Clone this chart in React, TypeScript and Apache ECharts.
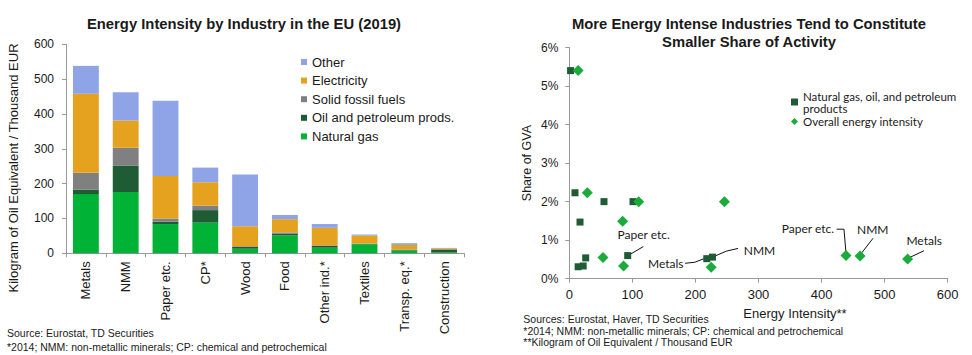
import React, { useEffect, useRef } from "react";
import * as echarts from "echarts";

// ---------- Left chart data ----------
const categories = ["Metals", "NMM", "Paper etc.", "CP*", "Wood", "Food", "Other ind.*", "Textiles", "Transp. eq.*", "Construction"];
const naturalGas = [170, 176, 84, 88, 13, 51, 16, 26, 8, 2];
const oilPetroleum = [13, 76, 7, 36, 5, 6, 5, 1, 2, 9];
const solidFossil = [48, 51, 9, 13, 2, 3, 2, 1, 1, 0.5];
const electricity = [227, 78, 122, 67, 58, 38, 50, 23, 13, 3];
const otherEnergy = [80, 81, 216, 42, 148, 12, 11, 3, 5, 1];
const leftTicks = [0, 100, 200, 300, 400, 500, 600];

// ---------- Right chart data ----------
const gasOilX = [2, 9, 55, 101, 17, 14, 22, 26, 92.6, 218, 227];
const gasOilY = [5.4, 2.23, 2.0, 2.0, 1.47, 0.31, 0.33, 0.54, 0.6, 0.52, 0.56];
const overallX = [14, 28.6, 110, 246, 84.6, 53.4, 86, 225, 438.7, 461, 536.5];
const overallY = [5.4, 2.23, 2.0, 2.0, 1.49, 0.55, 0.33, 0.3, 0.6, 0.59, 0.51];

// annotations: series (0 = gas/oil squares, 1 = overall diamonds), point index, label
const annotations = [
  { s: 0, i: 8, text: "Paper etc.", tx: 16, ty: -21, line: [[15.6, -9], [2, -1]] },
  { s: 0, i: 9, text: "Metals", tx: -41, ty: 4.6, line: [[-21.7, 4.6], [-12, 3.6], [-1.7, -0.4]] },
  { s: 0, i: 10, text: "NMM", tx: 47, ty: -7, line: [[2.3, -1], [14, -6], [25.6, -8.7]] },
  { s: 1, i: 8, text: "Paper etc.", tx: -38, ty: -27.4, line: [[-9.3, -26.4], [-2, -26.4], [0, -3]] },
  { s: 1, i: 9, text: "NMM", tx: 12.7, ty: -26.7, line: [[13, -17.7], [1.4, -2.7]] },
  { s: 1, i: 10, text: "Metals", tx: 16.5, ty: -18.3, line: [[16.3, -8.3], [2.3, -1.7]] },
];

const ARIAL = "'Liberation Sans', Arial, sans-serif";
const CALI = "Lato, 'Open Sans', sans-serif";
const AXIS_GRAY = "#9a9a9a";
const TXT = "#1a1a1a";

const COLORS = {
  other: "#8FA4E6",
  elec: "#E5A21E",
  solid: "#808080",
  oil: "#1F5C36",
  gas: "#00B336",
  sq: "#1E5C36",
  dia: "#1AAB3A",
};

function txt(x: number, y: number, text: string, font: string, extra: any = {}) {
  return {
    type: "text",
    x,
    y,
    rotation: extra.rotation || 0,
    silent: true,
    style: {
      text,
      font,
      fill: extra.fill || TXT,
      align: extra.align || "left",
      textAlign: extra.align || "left",
      verticalAlign: "middle",
      textVerticalAlign: "middle",
      lineHeight: extra.lineHeight,
    },
  };
}

export default function App() {
  const ref = useRef<HTMLDivElement>(null);

  useEffect(() => {
    if (!ref.current) return;
    const chart = echarts.init(ref.current, null, { renderer: "svg" });

    const barSeries = (name: string, data: number[], color: string) => ({
      name,
      type: "bar",
      stack: "total",
      xAxisIndex: 0,
      yAxisIndex: 0,
      data,
      barWidth: "65%",
      itemStyle: { color },
      emphasis: { disabled: true },
    });

    const option: any = {
      animation: false,
      backgroundColor: "#ffffff",
      textStyle: { fontFamily: ARIAL },
      grid: [
        { left: 66, right: 972 - 464, top: 44.3, bottom: 355 - 253.3, containLabel: false },
        { left: 569.3, right: 972 - 947.7, top: 47.5, bottom: 355 - 278.7, containLabel: false },
      ],
      legend: [
        {
          data: ["Other", "Electricity", "Solid fossil fuels", "Oil and petroleum prods.", "Natural gas"],
          orient: "vertical",
          left: 296,
          top: 50.5,
          itemWidth: 6,
          itemHeight: 6,
          itemGap: 5.6,
          icon: "rect",
          selectedMode: false,
          textStyle: { fontFamily: ARIAL, fontSize: 13, color: TXT, lineHeight: 13 },
        },
        {
          data: [
            { name: "Natural gas, oil, and petroleum\nproducts", icon: "rect" },
            { name: "Overall energy intensity", icon: "diamond" },
          ],
          orient: "vertical",
          left: 786,
          top: 85,
          itemWidth: 7,
          itemHeight: 7,
          itemGap: 1.5,
          selectedMode: false,
          textStyle: { fontFamily: CALI, fontSize: 11.5, color: TXT, lineHeight: 12 },
        },
      ],
      xAxis: [
        {
          type: "category",
          gridIndex: 0,
          data: categories,
          axisLine: { lineStyle: { color: AXIS_GRAY } },
          axisTick: { show: true, length: 4, lineStyle: { color: AXIS_GRAY } },
          axisLabel: { rotate: 90, fontSize: 13, color: TXT, margin: 8, fontFamily: ARIAL, interval: 0 },
        },
        {
          type: "value",
          gridIndex: 1,
          min: 0,
          max: 600,
          interval: 100,
          splitLine: { show: false },
          axisLine: { show: true, lineStyle: { color: AXIS_GRAY } },
          axisTick: { show: true, length: 4, lineStyle: { color: AXIS_GRAY } },
          axisLabel: { fontSize: 13, color: TXT, margin: 9, fontFamily: ARIAL },
        },
      ],
      yAxis: [
        {
          type: "value",
          gridIndex: 0,
          min: leftTicks[0],
          max: leftTicks[leftTicks.length - 1],
          interval: 100,
          splitLine: { show: false },
          axisLine: { show: true, lineStyle: { color: AXIS_GRAY } },
          axisTick: { show: true, length: 4, lineStyle: { color: AXIS_GRAY } },
          axisLabel: { fontSize: 12, color: TXT, margin: 12, fontFamily: ARIAL },
        },
        {
          type: "value",
          gridIndex: 1,
          min: 0,
          max: 6,
          interval: 1,
          name: "Share of GVA",
          nameLocation: "middle",
          nameGap: 36,
          nameRotate: 90,
          nameTextStyle: { fontSize: 12.5, color: TXT, fontFamily: ARIAL },
          splitLine: { show: false },
          axisLine: { show: true, lineStyle: { color: AXIS_GRAY } },
          axisTick: { show: true, length: 4, lineStyle: { color: AXIS_GRAY } },
          axisLabel: { fontSize: 12, color: TXT, margin: 11, fontFamily: ARIAL, formatter: "{value}%" },
        },
      ],
      series: [
        barSeries("Natural gas", naturalGas, COLORS.gas),
        barSeries("Oil and petroleum prods.", oilPetroleum, COLORS.oil),
        barSeries("Solid fossil fuels", solidFossil, COLORS.solid),
        barSeries("Electricity", electricity, COLORS.elec),
        barSeries("Other", otherEnergy, COLORS.other),
        {
          name: "Natural gas, oil, and petroleum\nproducts",
          type: "scatter",
          xAxisIndex: 1,
          yAxisIndex: 1,
          symbol: "rect",
          symbolSize: 7,
          itemStyle: { color: COLORS.sq, opacity: 1 },
          data: gasOilX.map((x, i) => [x, gasOilY[i]]),
          emphasis: { disabled: true },
        },
        {
          name: "Overall energy intensity",
          type: "scatter",
          xAxisIndex: 1,
          yAxisIndex: 1,
          symbol: "diamond",
          symbolSize: 11,
          itemStyle: { color: COLORS.dia, opacity: 1 },
          data: overallX.map((x, i) => [x, overallY[i]]),
          emphasis: { disabled: true },
        },
      ],
    };

    chart.setOption(option);

    const xs = [gasOilX, overallX];
    const ys = [gasOilY, overallY];
    const annGraphics: any[] = [];
    annotations.forEach((a) => {
      const p = chart.convertToPixel({ xAxisIndex: 1, yAxisIndex: 1 } as any, [xs[a.s][a.i], ys[a.s][a.i]]) as number[];
      if (!p) return;
      annGraphics.push(txt(p[0] + a.tx, p[1] + a.ty, a.text, `12px ${CALI}`, { align: "center" }));
      annGraphics.push({
        type: "polyline",
        silent: true,
        shape: { points: a.line.map((o) => [p[0] + o[0], p[1] + o[1]]) },
        style: { stroke: "#111", lineWidth: 1, fill: null },
      });
    });

    chart.setOption({
      graphic: [
        txt(244, 24, "Energy Intensity by Industry in the EU (2019)", `bold 14.8px ${ARIAL}`, { align: "center" }),
        txt(749, 33, "More Energy Intense Industries Tend to Constitute\nSmaller Share of Activity", `bold 14.8px ${ARIAL}`, {
          align: "center",
          lineHeight: 17.7,
        }),
        txt(13, 168, "Kilogram of Oil Equivalent / Thousand EUR", `13px ${ARIAL}`, {
          align: "center",
          rotation: Math.PI / 2,
        }),
        txt(795, 313.3, "Energy Intensity**", `13px ${ARIAL}`, { align: "center" }),
        txt(7, 333, "Source: Eurostat, TD Securities", `10.5px ${ARIAL}`),
        txt(7, 347, "*2014; NMM: non-metallic minerals; CP: chemical and petrochemical", `10.5px ${ARIAL}`),
        txt(523.3, 319.3, "Sources: Eurostat, Haver, TD Securities", `10.5px ${ARIAL}`),
        txt(523.3, 330.7, "*2014; NMM: non-metallic minerals; CP: chemical and petrochemical", `10.5px ${ARIAL}`),
        txt(523.3, 342.3, "**Kilogram of Oil Equivalent / Thousand EUR", `10.5px ${ARIAL}`),
        ...annGraphics,
      ],
    });

    return () => {
      chart.dispose();
    };
  }, []);

  return (
    <div
      ref={ref}
      style={{ position: "fixed", left: 0, top: 0, width: 972, height: 355, background: "#fff" }}
    />
  );
}
